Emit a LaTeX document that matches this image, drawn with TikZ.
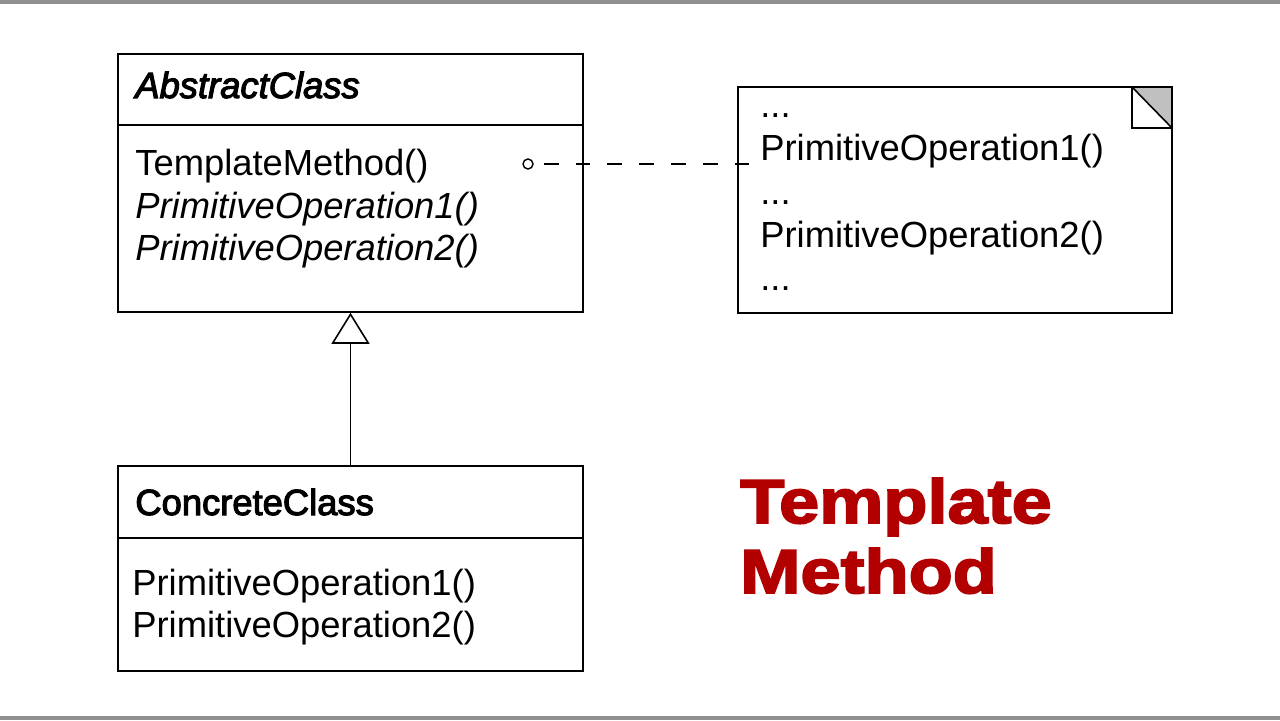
\documentclass[tikz,border=0pt]{standalone}
\usepackage{fontspec}
\setmainfont{Liberation Sans}
\newfontfamily\entete[FakeBold=3]{Liberation Sans}
\newfontfamily\titre[FakeStretch=1.16,BoldFeatures={FakeBold=3}]{Liberation Sans}
\usetikzlibrary{arrows.meta,fit}
\definecolor{rougetitre}{RGB}{178,0,0}
\definecolor{grisbord}{RGB}{144,144,144}
\definecolor{griscoin}{RGB}{192,192,192}
\begin{document}
\begin{tikzpicture}[x=0.02cm,y=-0.02cm]
\tikzset{
	boite/.style={draw,line width=0.9pt,inner sep=0pt},
	txt/.style={anchor=base west,inner sep=0pt,font=\fontsize{20.7}{24.4}\selectfont},
	titreligne/.style={anchor=base west,inner sep=0pt,text=rougetitre,font=\titre\bfseries\fontsize{35.4}{40}\selectfont}
}
  % fond et bandes grises
  \useasboundingbox (0,0) rectangle (1280,720);
  \fill[white] (0,0) rectangle (1280,720);
  \fill[grisbord] (0,0) rectangle (1280,4);
  \fill[grisbord] (0,716) rectangle (1280,720);

  % classe abstraite
  \node[boite,fit={(118,54) (583,312)}] (abstraite) {};
  \draw[line width=0.9pt] (118,125) -- (583,125);
  \node[txt,font=\entete\itshape\fontsize{20.7}{24.4}\selectfont] (nomabs) at (135,98) {AbstractClass};
  \node[txt] (tm) at (135,175) {TemplateMethod()};
  \node[txt] (po1abs) at (135,218) {\itshape PrimitiveOperation1()};
  \node[txt] (po2abs) at (135,260) {\itshape PrimitiveOperation2()};

  % classe concrète
  \node[boite,fit={(118,466) (583,671)}] (concrete) {};
  \draw[line width=0.9pt] (118,538) -- (583,538);
  \node[txt,font=\entete\fontsize{20.7}{24.4}\selectfont] (nomconc) at (135,515) {ConcreteClass};
  \node[txt] (po1conc) at (132,595) {PrimitiveOperation1()};
  \node[txt] (po2conc) at (132,637) {PrimitiveOperation2()};

  % héritage
  \draw[line width=0.9pt,-{Triangle[open,length=0.62cm,width=0.76cm]}] (concrete.north) -- (abstraite.south);

  % note avec coin replié
  \node[boite,fit={(738,87) (1172,313)}] (note) {};
  \fill[griscoin] (1132,87) -- (1172,87) -- (1172,128) -- cycle;
  \draw[line width=0.9pt] (1132,87) rectangle (1172,128);
  \draw[line width=0.9pt] (1132,87) -- (1172,128);
  \node[txt] (p1) at (760,117) {...};
  \node[txt] (n1) at (760,160) {PrimitiveOperation1()};
  \node[txt] (p2) at (760,204) {...};
  \node[txt] (n2) at (760,247) {PrimitiveOperation2()};
  \node[txt] (p3) at (760,290) {...};

  % lien vers la note
  \node[draw,circle,line width=0.8pt,minimum size=0.2cm,inner sep=0pt] (rond) at (528,164) {};
  \coordinate (finlien) at (752,164);
  \draw[line width=0.9pt,dash pattern=on 8.5pt off 9.6pt] (rond.east) ++(10,0) -- (finlien);

  % titre
  \node[titreligne] (titre1) at (740,523) {Template};
  \node[titreligne] (titre2) at (740,593) {Method};
\end{tikzpicture}
\end{document}
